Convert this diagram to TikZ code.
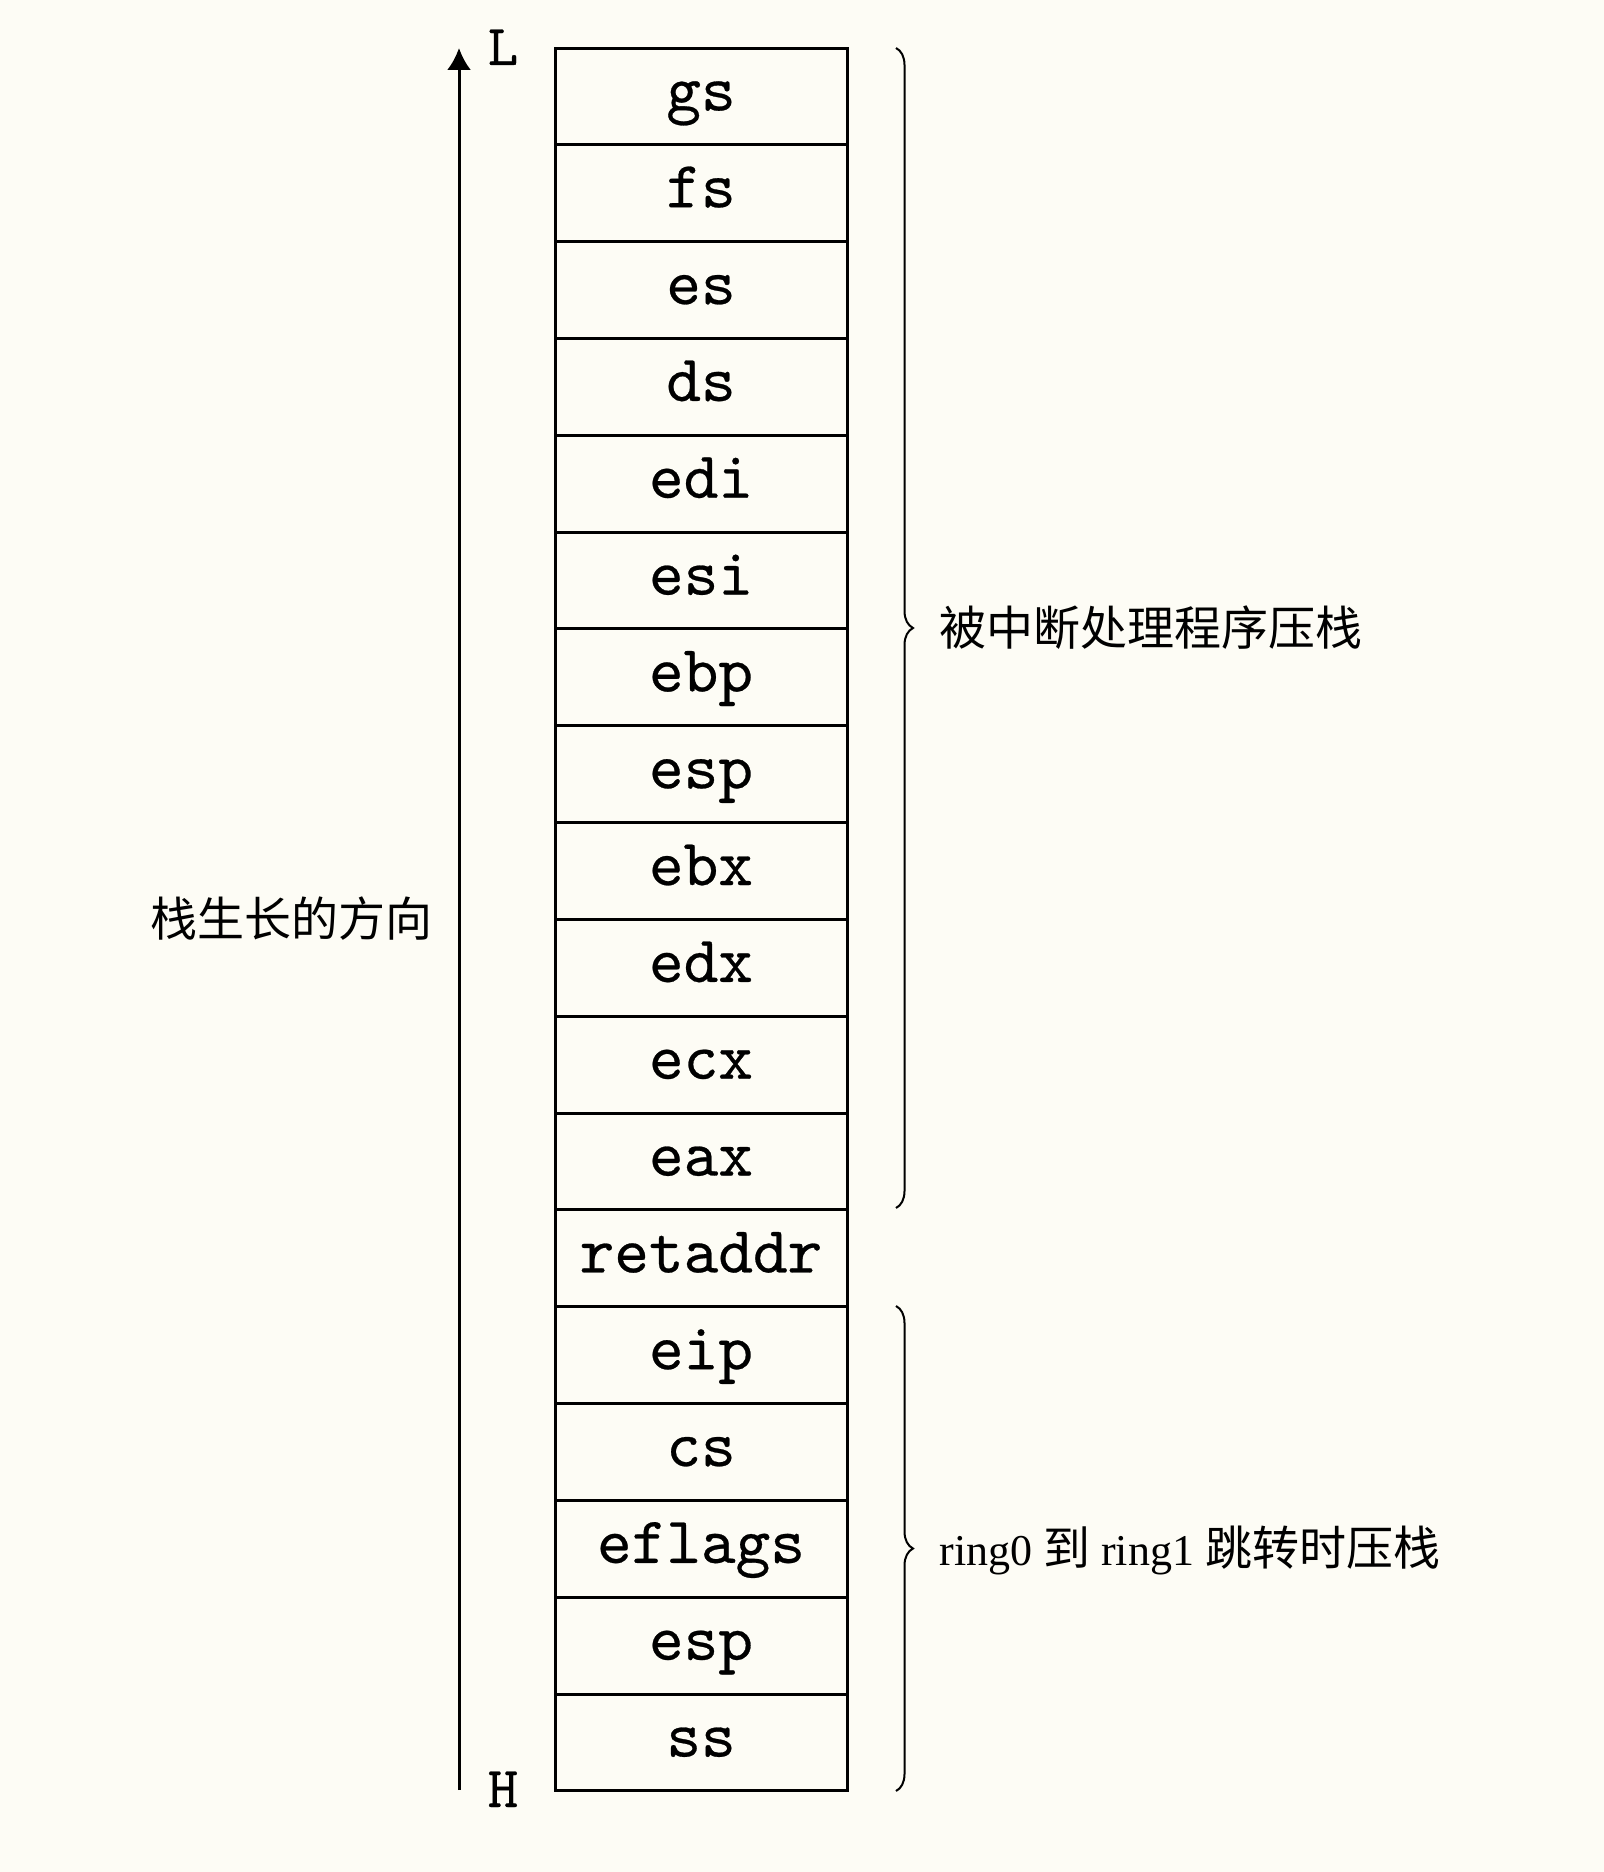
\documentclass[tikz,border=0pt]{standalone}
\usepackage{fontspec}
\setmainfont{Liberation Serif}
\newfontfamily\stk{lmmono10-regular}[Extension=.otf, FakeBold=0.4]
\newfontfamily\cjk{Noto Sans CJK SC}
\usetikzlibrary{arrows.meta,decorations.pathreplacing}
\definecolor{bgc}{RGB}{253,252,245}
\tikzset{
  cell/.style={draw=black, line width=1.5pt, minimum width=146pt, minimum height=48.4pt,
    inner sep=0pt, text height=14pt, text depth=0pt, font=\stk\fontsize{33}{38}\selectfont},
  endlabel/.style={anchor=base, inner sep=0pt, font=\stk\fontsize{29}{34}\selectfont},
  bracestyle/.style={decorate, decoration={brace, amplitude=8.5pt}, line width=1pt},
  note/.style={inner sep=0pt, font=\fontsize{22}{26}\selectfont}
}
\begin{document}
\begin{tikzpicture}[x=0.5pt,y=-0.5pt]
\fill[bgc] (0,0) rectangle (1604,1872);
\useasboundingbox (0,0) rectangle (1604,1872);
\foreach \t [count=\i] in {gs,fs,es,ds,edi,esi,ebp,esp,ebx,edx,ecx,eax,retaddr,eip,cs,eflags,esp,ss}
  \node[cell] (r\i) at (701,{48+(\i-0.5)*96.83}) {\t};
% growth arrow
\coordinate (ab) at (459,1790);
\coordinate (at) at (459,48);
\draw[line width=1.5pt, -{Latex[length=11pt,width=12pt]}] (ab) -- (at);
\node[endlabel] (L) at (503,65) {L};
\node[endlabel] (H) at (503,1807) {H};
\node[note, anchor=west] (grow) at (150,919) {\cjk\fontsize{23.5}{26}\selectfont 栈生长的方向};
% braces
\coordinate (b1t) at (896,48);
\coordinate (b1b) at (896,1208);
\coordinate (b2t) at (896,1306);
\coordinate (b2b) at (896,1791);
\draw[bracestyle] (b1t) -- (b1b);
\draw[bracestyle] (b2t) -- (b2b);
\node[note, anchor=west] (n1) at (939,628) {\cjk\fontsize{23.5}{26}\selectfont 被中断处理程序压栈};
\node[note, anchor=west] (n2) at (939,1550) {ring0 {\cjk\fontsize{23.5}{26}\selectfont 到} ring1 {\cjk\fontsize{23.5}{26}\selectfont 跳转时压栈}};
\end{tikzpicture}
\end{document}
